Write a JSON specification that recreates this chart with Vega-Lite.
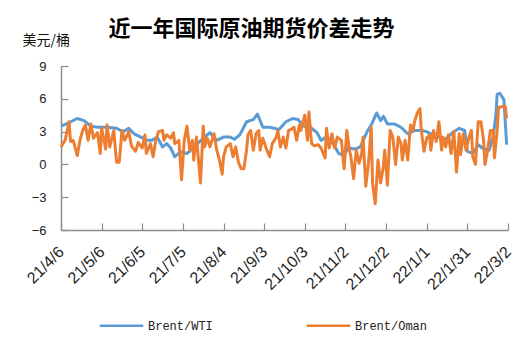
{
  "$schema": "https://vega.github.io/schema/vega-lite/v6.json",
  "autosize": {"type": "none"},
  "width": 447,
  "height": 164,
  "padding": {"left": 61, "top": 66, "right": 23, "bottom": 124},
  "background": "white",
  "title": {
    "text": "近一年国际原油期货价差走势",
    "font": "Noto Sans CJK SC",
    "fontSize": 22,
    "fontWeight": "bold",
    "color": "#000000",
    "anchor": "middle",
    "dx": -33,
    "offset": -8
  },
  "datasets": {
    "wti": [
      {"date": "2021-04-06", "v": 3.5}, {"date": "2021-04-10", "v": 3.7}, {"date": "2021-04-18", "v": 4.2}, {"date": "2021-04-23", "v": 4.0},
      {"date": "2021-04-28", "v": 3.5}, {"date": "2021-05-03", "v": 3.4}, {"date": "2021-05-10", "v": 3.4}, {"date": "2021-05-17", "v": 3.3},
      {"date": "2021-05-22", "v": 3.0}, {"date": "2021-05-26", "v": 3.3}, {"date": "2021-05-30", "v": 2.8}, {"date": "2021-06-04", "v": 2.5},
      {"date": "2021-06-09", "v": 2.2}, {"date": "2021-06-12", "v": 2.2}, {"date": "2021-06-16", "v": 2.5}, {"date": "2021-06-20", "v": 1.6},
      {"date": "2021-06-23", "v": 1.9}, {"date": "2021-06-26", "v": 1.5}, {"date": "2021-06-29", "v": 0.7}, {"date": "2021-07-03", "v": 1.15},
      {"date": "2021-07-08", "v": 1.0}, {"date": "2021-07-11", "v": 1.3}, {"date": "2021-07-15", "v": 1.8}, {"date": "2021-07-20", "v": 2.4},
      {"date": "2021-07-25", "v": 2.9}, {"date": "2021-07-30", "v": 2.2}, {"date": "2021-08-04", "v": 2.5}, {"date": "2021-08-09", "v": 2.5},
      {"date": "2021-08-12", "v": 2.3}, {"date": "2021-08-16", "v": 2.7}, {"date": "2021-08-21", "v": 3.9}, {"date": "2021-08-26", "v": 4.1},
      {"date": "2021-08-29", "v": 4.6}, {"date": "2021-09-02", "v": 3.4}, {"date": "2021-09-07", "v": 3.4}, {"date": "2021-09-14", "v": 3.2},
      {"date": "2021-09-19", "v": 3.9}, {"date": "2021-09-24", "v": 4.2}, {"date": "2021-09-28", "v": 4.1}, {"date": "2021-10-02", "v": 3.5},
      {"date": "2021-10-07", "v": 3.4}, {"date": "2021-10-12", "v": 2.9}, {"date": "2021-10-15", "v": 2.2}, {"date": "2021-10-19", "v": 2.5},
      {"date": "2021-10-24", "v": 1.9}, {"date": "2021-10-28", "v": 1.0}, {"date": "2021-11-01", "v": 0.8}, {"date": "2021-11-04", "v": 1.5},
      {"date": "2021-11-09", "v": 1.4}, {"date": "2021-11-13", "v": 1.6}, {"date": "2021-11-18", "v": 3.0}, {"date": "2021-11-21", "v": 3.6},
      {"date": "2021-11-25", "v": 4.7}, {"date": "2021-11-28", "v": 4.0}, {"date": "2021-11-30", "v": 4.4}, {"date": "2021-12-03", "v": 3.7},
      {"date": "2021-12-08", "v": 3.7}, {"date": "2021-12-13", "v": 3.4}, {"date": "2021-12-18", "v": 2.8}, {"date": "2021-12-23", "v": 3.1},
      {"date": "2021-12-28", "v": 3.1}, {"date": "2022-01-01", "v": 3.0}, {"date": "2022-01-05", "v": 2.7}, {"date": "2022-01-10", "v": 2.5},
      {"date": "2022-01-15", "v": 2.3}, {"date": "2022-01-20", "v": 2.9}, {"date": "2022-01-25", "v": 3.3}, {"date": "2022-01-29", "v": 3.1},
      {"date": "2022-01-31", "v": 1.2}, {"date": "2022-02-04", "v": 1.0}, {"date": "2022-02-08", "v": 1.8}, {"date": "2022-02-11", "v": 1.5},
      {"date": "2022-02-16", "v": 1.3}, {"date": "2022-02-19", "v": 2.5}, {"date": "2022-02-21", "v": 4.4}, {"date": "2022-02-22", "v": 6.4},
      {"date": "2022-02-24", "v": 6.5}, {"date": "2022-02-27", "v": 5.9}, {"date": "2022-03-01", "v": 1.8}
    ],
    "oman": [
      {"date": "2021-04-06", "v": 1.6}, {"date": "2021-04-09", "v": 2.2}, {"date": "2021-04-12", "v": 3.9}, {"date": "2021-04-13", "v": 2.1},
      {"date": "2021-04-15", "v": 2.2}, {"date": "2021-04-18", "v": 0.8}, {"date": "2021-04-20", "v": 2.2}, {"date": "2021-04-22", "v": 3.1},
      {"date": "2021-04-24", "v": 3.6}, {"date": "2021-04-26", "v": 2.2}, {"date": "2021-04-28", "v": 3.7}, {"date": "2021-04-30", "v": 2.4},
      {"date": "2021-05-03", "v": 2.9}, {"date": "2021-05-05", "v": 1.0}, {"date": "2021-05-06", "v": 3.3}, {"date": "2021-05-09", "v": 1.4},
      {"date": "2021-05-10", "v": 3.6}, {"date": "2021-05-12", "v": 1.6}, {"date": "2021-05-15", "v": 3.1}, {"date": "2021-05-17", "v": 0.2},
      {"date": "2021-05-19", "v": 0.2}, {"date": "2021-05-21", "v": 3.1}, {"date": "2021-05-23", "v": 2.2}, {"date": "2021-05-26", "v": 3.0},
      {"date": "2021-05-28", "v": 1.7}, {"date": "2021-05-31", "v": 1.2}, {"date": "2021-06-02", "v": 2.0}, {"date": "2021-06-05", "v": 1.5},
      {"date": "2021-06-07", "v": 2.7}, {"date": "2021-06-08", "v": 1.0}, {"date": "2021-06-11", "v": 1.9}, {"date": "2021-06-13", "v": 0.7},
      {"date": "2021-06-15", "v": 2.2}, {"date": "2021-06-17", "v": 3.0}, {"date": "2021-06-20", "v": 3.1}, {"date": "2021-06-21", "v": 2.2},
      {"date": "2021-06-23", "v": 2.7}, {"date": "2021-06-26", "v": 2.4}, {"date": "2021-06-28", "v": 2.9}, {"date": "2021-06-29", "v": 1.9},
      {"date": "2021-07-02", "v": 2.2}, {"date": "2021-07-04", "v": -1.4}, {"date": "2021-07-06", "v": 2.2}, {"date": "2021-07-08", "v": 3.5},
      {"date": "2021-07-10", "v": 1.3}, {"date": "2021-07-12", "v": 2.2}, {"date": "2021-07-13", "v": 0.4}, {"date": "2021-07-15", "v": 2.5},
      {"date": "2021-07-18", "v": -1.7}, {"date": "2021-07-20", "v": 3.5}, {"date": "2021-07-21", "v": 1.6}, {"date": "2021-07-23", "v": 2.4},
      {"date": "2021-07-25", "v": 1.6}, {"date": "2021-07-28", "v": 2.8}, {"date": "2021-07-30", "v": 1.3}, {"date": "2021-08-01", "v": 0.4},
      {"date": "2021-08-03", "v": -0.9}, {"date": "2021-08-04", "v": 0.7}, {"date": "2021-08-06", "v": 1.6}, {"date": "2021-08-09", "v": 1.9},
      {"date": "2021-08-11", "v": 0.7}, {"date": "2021-08-13", "v": 1.6}, {"date": "2021-08-15", "v": 0.2}, {"date": "2021-08-17", "v": -0.4},
      {"date": "2021-08-19", "v": -0.4}, {"date": "2021-08-21", "v": 1.3}, {"date": "2021-08-22", "v": 2.7}, {"date": "2021-08-24", "v": 3.1},
      {"date": "2021-08-26", "v": 1.3}, {"date": "2021-08-28", "v": 2.8}, {"date": "2021-08-30", "v": 3.1}, {"date": "2021-08-31", "v": 1.3},
      {"date": "2021-09-02", "v": 2.4}, {"date": "2021-09-05", "v": 1.3}, {"date": "2021-09-07", "v": 0.7}, {"date": "2021-09-09", "v": 1.9},
      {"date": "2021-09-12", "v": 2.5}, {"date": "2021-09-13", "v": 3.1}, {"date": "2021-09-15", "v": 1.6}, {"date": "2021-09-17", "v": 2.5},
      {"date": "2021-09-19", "v": 1.5}, {"date": "2021-09-21", "v": 3.1}, {"date": "2021-09-23", "v": 3.2}, {"date": "2021-09-25", "v": 3.4},
      {"date": "2021-09-27", "v": 2.2}, {"date": "2021-09-29", "v": 3.6}, {"date": "2021-09-30", "v": 3.1}, {"date": "2021-10-03", "v": 4.5},
      {"date": "2021-10-05", "v": 2.2}, {"date": "2021-10-06", "v": 4.8}, {"date": "2021-10-08", "v": 1.9}, {"date": "2021-10-10", "v": 1.7},
      {"date": "2021-10-13", "v": 1.8}, {"date": "2021-10-15", "v": 1.5}, {"date": "2021-10-18", "v": 0.6}, {"date": "2021-10-19", "v": 3.3},
      {"date": "2021-10-21", "v": 1.5}, {"date": "2021-10-23", "v": 2.8}, {"date": "2021-10-25", "v": 1.5}, {"date": "2021-10-27", "v": 2.5},
      {"date": "2021-10-30", "v": 2.2}, {"date": "2021-11-01", "v": -0.4}, {"date": "2021-11-03", "v": 3.1}, {"date": "2021-11-05", "v": 1.3},
      {"date": "2021-11-06", "v": 0.7}, {"date": "2021-11-08", "v": -1.3}, {"date": "2021-11-10", "v": 1.3}, {"date": "2021-11-12", "v": 0.1},
      {"date": "2021-11-14", "v": 1.0}, {"date": "2021-11-15", "v": 2.5}, {"date": "2021-11-17", "v": -2.0}, {"date": "2021-11-19", "v": 0.1},
      {"date": "2021-11-21", "v": 3.4}, {"date": "2021-11-22", "v": -1.7}, {"date": "2021-11-24", "v": -3.6}, {"date": "2021-11-26", "v": 0.4},
      {"date": "2021-11-28", "v": -1.7}, {"date": "2021-11-30", "v": -0.2}, {"date": "2021-12-01", "v": 1.3}, {"date": "2021-12-03", "v": -1.9},
      {"date": "2021-12-05", "v": 3.1}, {"date": "2021-12-07", "v": 2.5}, {"date": "2021-12-09", "v": 0.0}, {"date": "2021-12-11", "v": 2.5},
      {"date": "2021-12-13", "v": 1.9}, {"date": "2021-12-14", "v": 0.4}, {"date": "2021-12-16", "v": 2.2}, {"date": "2021-12-18", "v": 0.4},
      {"date": "2021-12-20", "v": 3.6}, {"date": "2021-12-22", "v": 3.1}, {"date": "2021-12-23", "v": 3.9}, {"date": "2021-12-25", "v": 4.7},
      {"date": "2021-12-27", "v": 5.1}, {"date": "2021-12-28", "v": 3.1}, {"date": "2021-12-30", "v": 1.2}, {"date": "2022-01-01", "v": 2.4},
      {"date": "2022-01-03", "v": 2.7}, {"date": "2022-01-04", "v": 1.3}, {"date": "2022-01-06", "v": 3.1}, {"date": "2022-01-08", "v": 2.1},
      {"date": "2022-01-10", "v": 3.9}, {"date": "2022-01-12", "v": 1.3}, {"date": "2022-01-13", "v": 2.5}, {"date": "2022-01-15", "v": 1.6},
      {"date": "2022-01-17", "v": 2.7}, {"date": "2022-01-19", "v": 1.0}, {"date": "2022-01-21", "v": 3.0}, {"date": "2022-01-23", "v": -0.7},
      {"date": "2022-01-25", "v": 2.8}, {"date": "2022-01-26", "v": 0.9}, {"date": "2022-01-28", "v": 2.8}, {"date": "2022-01-30", "v": 1.3},
      {"date": "2022-02-01", "v": 2.4}, {"date": "2022-02-03", "v": 3.1}, {"date": "2022-02-04", "v": 0.7}, {"date": "2022-02-06", "v": 0.0},
      {"date": "2022-02-08", "v": 3.9}, {"date": "2022-02-10", "v": 3.9}, {"date": "2022-02-12", "v": 2.2}, {"date": "2022-02-13", "v": 0.0},
      {"date": "2022-02-15", "v": 1.3}, {"date": "2022-02-17", "v": 3.1}, {"date": "2022-02-19", "v": 3.1}, {"date": "2022-02-20", "v": 0.6},
      {"date": "2022-02-22", "v": 3.1}, {"date": "2022-02-23", "v": 5.2}, {"date": "2022-02-26", "v": 5.3}, {"date": "2022-02-28", "v": 5.3},
      {"date": "2022-03-01", "v": 4.2}
    ]
  },
  "layer": [
    {
      "data": {"name": "wti"},
      "transform": [{"calculate": "'Brent/WTI'", "as": "series"}],
      "mark": {"type": "line", "strokeWidth": 3, "strokeJoin": "round"},
      "encoding": {
        "x": {"field": "date", "type": "temporal"},
        "y": {"field": "v", "type": "quantitative"},
        "color": {"field": "series", "type": "nominal"}
      }
    },
    {
      "data": {"name": "oman"},
      "transform": [{"calculate": "'Brent/Oman'", "as": "series"}],
      "mark": {"type": "line", "strokeWidth": 3, "strokeJoin": "round"},
      "encoding": {
        "x": {"field": "date", "type": "temporal"},
        "y": {"field": "v", "type": "quantitative"},
        "color": {"field": "series", "type": "nominal"}
      }
    }
  ],
  "encoding": {
    "x": {
      "field": "date",
      "type": "temporal",
      "scale": {
        "type": "utc",
        "domain": [{"year": 2021, "month": 4, "date": 6, "utc": true}, {"year": 2022, "month": 3, "date": 2, "utc": true}],
        "nice": false
      },
      "axis": {
        "title": null,
        "values": [
          {"year": 2021, "month": 4, "date": 6, "utc": true},
          {"year": 2021, "month": 5, "date": 6, "utc": true},
          {"year": 2021, "month": 6, "date": 5, "utc": true},
          {"year": 2021, "month": 7, "date": 5, "utc": true},
          {"year": 2021, "month": 8, "date": 4, "utc": true},
          {"year": 2021, "month": 9, "date": 3, "utc": true},
          {"year": 2021, "month": 10, "date": 3, "utc": true},
          {"year": 2021, "month": 11, "date": 2, "utc": true},
          {"year": 2021, "month": 12, "date": 2, "utc": true},
          {"year": 2022, "month": 1, "date": 1, "utc": true},
          {"year": 2022, "month": 1, "date": 31, "utc": true},
          {"year": 2022, "month": 3, "date": 2, "utc": true}
        ],
        "format": "%y/%-m/%-d",
        "labelAngle": -45,
        "labelAlign": "right",
        "labelBaseline": "middle",
        "labelFont": "Liberation Sans",
        "labelFontSize": 16,
        "labelColor": "#222222",
        "labelPadding": 26,
        "labelOverlap": false,
        "labelFlush": false,
        "tickSize": -7,
        "tickColor": "#8c8c8c",
        "domainColor": "#8c8c8c",
        "domainWidth": 1.5,
        "tickWidth": 1.2,
        "grid": false
      }
    },
    "y": {
      "field": "v",
      "type": "quantitative",
      "scale": {"domain": [-6, 9], "nice": false, "zero": false},
      "axis": {
        "title": "美元/桶",
        "titleFont": "Noto Sans CJK SC",
        "titleFontSize": 14,
        "titleFontWeight": "normal",
        "titleColor": "#111111",
        "titleAngle": 0,
        "titleAlign": "left",
        "titleBaseline": "alphabetic",
        "titleX": -39,
        "titleY": -22,
        "values": [-6, -3, 0, 3, 6, 9],
        "labelFont": "Liberation Sans",
        "labelFontSize": 13,
        "labelColor": "#222222",
        "labelPadding": 22,
        "tickSize": -7,
        "tickColor": "#8c8c8c",
        "domainColor": "#8c8c8c",
        "domainWidth": 1.5,
        "tickWidth": 1.2,
        "grid": false
      }
    },
    "color": {
      "field": "series",
      "type": "nominal",
      "scale": {"domain": ["Brent/WTI", "Brent/Oman"], "range": ["#5b9bd5", "#ed7d31"]},
      "legend": {
        "title": null,
        "orient": "none",
        "legendX": 37,
        "legendY": 236,
        "direction": "horizontal",
        "symbolType": "stroke",
        "symbolSize": 1900,
        "symbolStrokeWidth": 2.5,
        "labelFont": "Liberation Mono",
        "labelFontSize": 12,
        "labelColor": "#222222",
        "labelOffset": 3,
        "columnPadding": 88
      }
    }
  },
  "config": {
    "view": {"stroke": null}
  }
}
